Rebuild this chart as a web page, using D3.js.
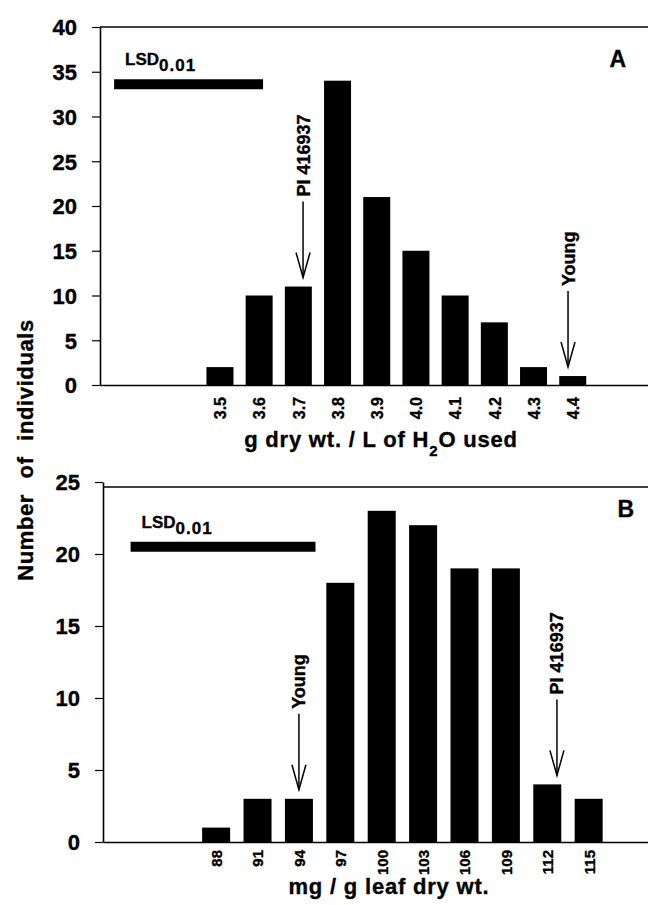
<!DOCTYPE html>
<html>
<head>
<meta charset="utf-8">
<script src="https://cdn.jsdelivr.net/npm/d3@7"></script>
<style>
  body { margin: 0; background: #fff; }
  svg { display: block; }
  text { font-family: "Liberation Sans", Arial, Helvetica, sans-serif; font-weight: bold; fill: #000; stroke: #000; stroke-width: 0.35px; }
</style>
</head>
<body>
<div id="chart"></div>
<script>
// panel A: water use efficiency
var binsA = [3.5, 3.6, 3.7, 3.8, 3.9, 4.0, 4.1, 4.2, 4.3, 4.4];
var countsA = [2, 10, 11, 34, 21, 15, 10, 7, 2, 1];
var yTicksA = [0, 5, 10, 15, 20, 25, 30, 35, 40];
var lsdRangeA = [3.23, 3.61];
var lsdLevelA = 33.6;
var markerLabelsA = ["PI 416937", "Young"];
var markerBinsA = [3.7, 4.4];
var markerAtA = [3.712, 4.388];

// panel B: leaf content
var binsB = [88, 91, 94, 97, 100, 103, 106, 109, 112, 115];
var countsB = [1, 3, 3, 18, 23, 22, 19, 19, 4, 3];
var yTicksB = [0, 5, 10, 15, 20, 25];
var lsdRangeB = [81.8, 95.2];
var lsdLevelB = 20.5;
var markerLabelsB = ["Young", "PI 416937"];
var markerBinsB = [94, 112];
var markerAtB = [94, 112.7];

var W = 648, H = 905;
var svg = d3.select("#chart").append("svg")
  .attr("width", W)
  .attr("height", H);

function drawPanel(cfg) {
  var g = svg.append("g");
  var x = d3.scaleLinear().domain(cfg.xDomain).range([cfg.left, W]);
  var y = d3.scaleLinear().domain([0, cfg.yMax]).range([cfg.bottom, cfg.top]);

  // top frame line
  g.append("line")
    .attr("x1", cfg.left).attr("x2", W)
    .attr("y1", cfg.frameTop).attr("y2", cfg.frameTop)
    .attr("stroke", "#000").attr("stroke-width", 1.6);

  // bars
  g.selectAll(".bar")
    .data(cfg.bins)
    .enter()
    .append("rect")
    .attr("class", "bar")
    .attr("x", function(d) { return x(d) - cfg.barW / 2; })
    .attr("width", cfg.barW)
    .attr("y", function(d, i) { return y(cfg.counts[i]); })
    .attr("height", function(d, i) { return y(0) - y(cfg.counts[i]); })
    .attr("fill", "#000");

  // y axis
  var yAxis = g.append("g")
    .attr("transform", "translate(" + cfg.left + ",0)")
    .call(d3.axisLeft(y).tickValues(cfg.yTicks).tickSize(8).tickSizeOuter(0).tickPadding(15));
  yAxis.select(".domain").attr("stroke-width", 1.6);
  yAxis.selectAll(".tick line").attr("stroke-width", 1.2);
  yAxis.selectAll("text")
    .attr("font-size", 22)
    .attr("font-family", null)
    .attr("dy", "0.36em");

  // x axis with rotated labels
  var xAxis = g.append("g")
    .attr("transform", "translate(0," + cfg.bottom + ")")
    .call(d3.axisBottom(x).tickValues(cfg.bins).tickSize(0).tickSizeOuter(0).tickFormat(cfg.fmt));
  xAxis.select(".domain").attr("stroke-width", 1.6);
  xAxis.selectAll("text")
    .attr("font-size", cfg.tickFont)
    .attr("font-family", null)
    .attr("transform", "rotate(-90)")
    .attr("text-anchor", "end")
    .attr("x", -cfg.labelGap)
    .attr("y", 0)
    .attr("dy", "0.36em");

  // LSD bar
  g.append("line")
    .attr("x1", x(cfg.lsd[0])).attr("x2", x(cfg.lsd[1]))
    .attr("y1", y(cfg.lsdLevel)).attr("y2", y(cfg.lsdLevel))
    .attr("stroke", "#000").attr("stroke-width", 10);
  var lsd = g.append("text")
    .attr("x", x(cfg.lsd[0]) + 11)
    .attr("y", y(cfg.lsdLevel) - 19)
    .attr("font-size", 17);
  lsd.append("tspan").text("LSD");
  lsd.append("tspan").attr("dy", 6).attr("font-size", 17).attr("letter-spacing", 1).text("0.01");

  // panel letter
  g.append("text")
    .attr("x", cfg.letterX).attr("y", cfg.letterY)
    .attr("text-anchor", "end")
    .attr("font-size", 23)
    .text(cfg.letter);

  // marker arrows
  cfg.markerLabels.forEach(function(label, i) {
    var n = cfg.counts[cfg.bins.indexOf(cfg.markerBins[i])];
    var mx = x(cfg.markerAt[i]);
    var tip = y(n) - 9;
    g.append("line")
      .attr("x1", mx).attr("x2", mx)
      .attr("y1", tip - 76).attr("y2", tip)
      .attr("stroke", "#000").attr("stroke-width", 1.5);
    g.append("path")
      .attr("d", "M" + (mx - 7) + "," + (tip - 25) + "L" + mx + "," + tip + "L" + (mx + 7) + "," + (tip - 25))
      .attr("fill", "none").attr("stroke", "#000").attr("stroke-width", 1.5);
    g.append("text")
      .attr("transform", "translate(" + mx + "," + (tip - 81) + ") rotate(-90)")
      .attr("dy", "0.36em")
      .attr("font-size", 18)
      .text(label);
  });

  // x axis title
  var t = g.append("text")
    .attr("x", cfg.titleX).attr("y", cfg.titleY)
    .attr("text-anchor", "middle")
    .attr("font-size", 22)
    .attr("letter-spacing", 0.8);
  cfg.title(t);
}

drawPanel({
  bins: binsA, counts: countsA, yTicks: yTicksA, yMax: 40,
  xDomain: [3.194, 4.592], left: 100, top: 27, bottom: 385, frameTop: 27,
  barW: 27, labelGap: 12, tickFont: 16, fmt: d3.format(".1f"),
  lsd: lsdRangeA, lsdLevel: lsdLevelA,
  letter: "A", letterX: 626, letterY: 67,
  markerLabels: markerLabelsA, markerBins: markerBinsA, markerAt: markerAtA,
  titleX: 381, titleY: 447,
  title: function(t) {
    t.append("tspan").text("g dry wt. / L of H");
    t.append("tspan").attr("dy", 9).attr("font-size", 15).text("2");
    t.append("tspan").attr("dy", -9).text("O used");
  }
});

drawPanel({
  bins: binsB, counts: countsB, yTicks: yTicksB, yMax: 25,
  xDomain: [79.8, 119.3], left: 103, top: 482, bottom: 842, frameTop: 487,
  barW: 28, labelGap: 8, tickFont: 15, fmt: d3.format("d"),
  lsd: lsdRangeB, lsdLevel: lsdLevelB,
  letter: "B", letterX: 634, letterY: 517,
  markerLabels: markerLabelsB, markerBins: markerBinsB, markerAt: markerAtB,
  titleX: 389, titleY: 894,
  title: function(t) { t.text("mg / g leaf dry wt."); }
});

// shared y title
svg.append("text")
  .attr("transform", "translate(33,450) rotate(-90)")
  .attr("text-anchor", "middle")
  .attr("font-size", 22)
  .attr("letter-spacing", 0.6)
  .attr("word-spacing", 9)
  .text("Number of individuals");
</script>
</body>
</html>
